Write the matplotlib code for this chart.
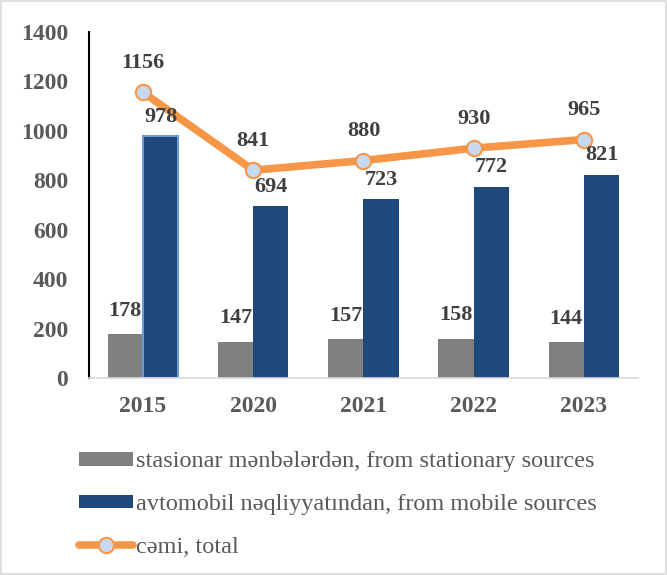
import matplotlib.pyplot as plt
from matplotlib.patches import Patch
from matplotlib.lines import Line2D
import numpy as np

years = ['2015', '2020', '2021', '2022', '2023']
stationary = [178, 147, 157, 158, 144]
mobile = [978, 694, 723, 772, 821]
total = [1156, 841, 880, 930, 965]

plt.rcParams['font.family'] = ['Liberation Serif', 'DejaVu Serif']

fig = plt.figure(figsize=(6.67, 5.75), dpi=100)
ax = fig.add_axes([0.1334, 0.3426, 0.823, 0.6017])

x = np.arange(len(years))
w = 0.32
gray = '#808080'
blue = '#1F497D'
orange = '#F79646'

ax.bar(x - w / 2, stationary, w, color=gray)
bars = ax.bar(x + w / 2, mobile, w, color=blue)
# first blue bar is highlighted in the original
bars[0].set_edgecolor('#6F9BD6')
bars[0].set_linewidth(1.5)
ax.plot(x, total, color=orange, lw=5.5, marker='o', ms=11, mfc='#C6D9F1',
        mec=orange, mew=1.5, solid_capstyle='round', zorder=3)

lab = dict(ha='center', va='center', fontsize=16, fontweight='bold', color='#404040')
for i in x:
    ax.text(i - w / 2, stationary[i] + 95, str(stationary[i]), **lab)
    ax.text(i + w / 2, mobile[i] + 80, str(mobile[i]), **lab)
    ax.text(i, total[i] + 120, str(total[i]), **lab)

ax.set_xlim(-0.49, 4.49)
ax.set_ylim(0, 1400)
ax.set_yticks(range(0, 1401, 200))
ax.set_xticks(x)
ax.set_xticklabels(years)
ax.tick_params(length=0, labelsize=17, labelcolor='#595959', pad=13)
ax.tick_params(axis='y', pad=15)
for t in ax.get_xticklabels() + ax.get_yticklabels():
    t.set_fontweight('bold')

for s in ['top', 'right']:
    ax.spines[s].set_visible(False)
ax.spines['left'].set_color('black')
ax.spines['left'].set_linewidth(1.5)
ax.spines['bottom'].set_color('#D9D9D9')
ax.spines['bottom'].set_linewidth(1.2)

handles = [
    Patch(facecolor=gray, label='stasionar mənbələrdən, from stationary sources'),
    Patch(facecolor=blue, label='avtomobil nəqliyyatından, from mobile sources'),
    Line2D([], [], color=orange, lw=5.5, marker='o', ms=11, mfc='#C6D9F1', mec=orange,
           mew=1.5, solid_capstyle='round', label='cəmi, total'),
]
fig.legend(handles=handles, loc='upper left', bbox_to_anchor=(0.104, 0.232), frameon=False,
           fontsize=17.5, labelcolor='#595959', handlelength=2.2, handleheight=0.5,
           handletextpad=0.15, labelspacing=0.9, borderaxespad=0)

fig.patches.append(plt.Rectangle((0.002, 0.002), 0.996, 0.996, transform=fig.transFigure,
                                 fill=False, edgecolor='#D9D9D9', lw=1.2))

fig.savefig('out.png', dpi=100)
